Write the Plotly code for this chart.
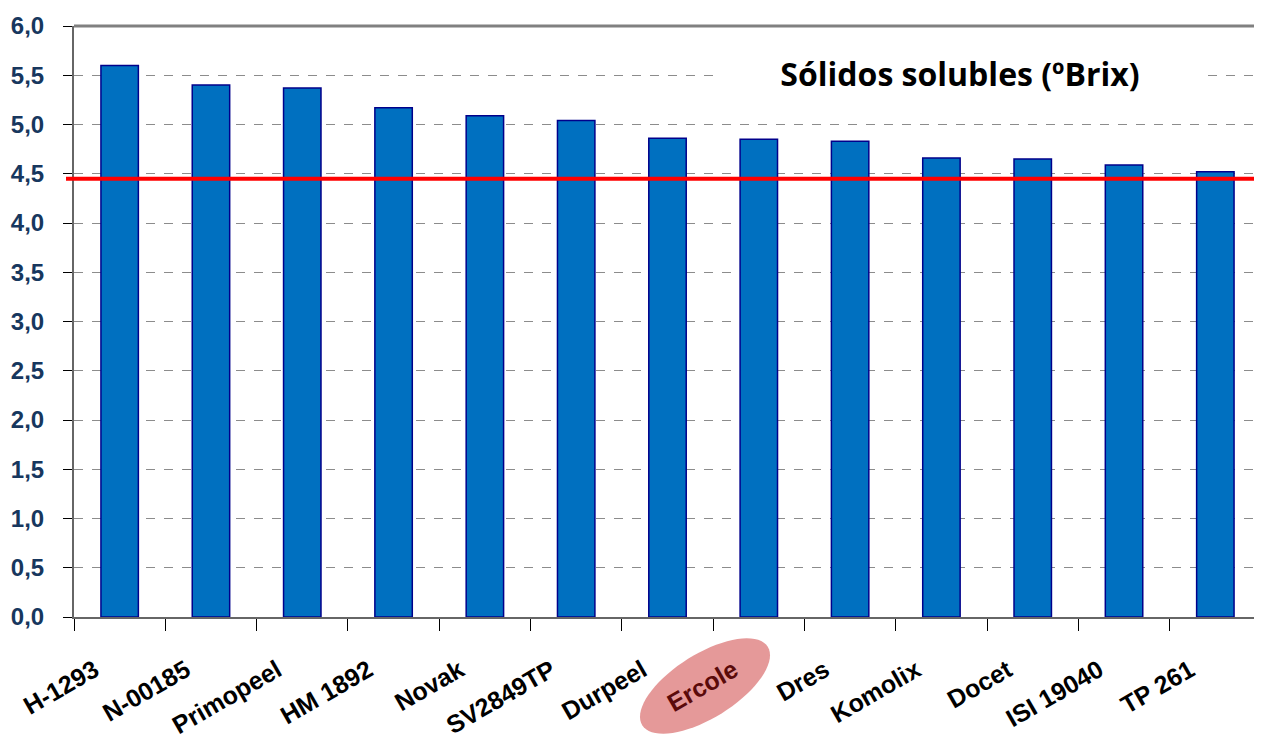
import numpy as np
import plotly.graph_objects as go

categories = ["H-1293", "N-00185", "Primopeel", "HM 1892", "Novak", "SV2849TP", "Durpeel",
              "Ercole", "Dres", "Komolix", "Docet", "ISI 19040", "TP 261"]
brix = [5.60, 5.40, 5.37, 5.17, 5.09, 5.04, 4.86, 4.85, 4.83, 4.66, 4.65, 4.59, 4.52]
reference_level = 4.45
highlight = "Ercole"
y_ticks = [0.0, 0.5, 1.0, 1.5, 2.0, 2.5, 3.0, 3.5, 4.0, 4.5, 5.0, 5.5, 6.0]
title_text = "Sólidos solubles (ºBrix)"

# page body adds an 8px margin, so the figure is sized/offset to compensate
OFF = 8
W, H = 1262 - OFF, 743 - OFF
ML, MR, MT, MB = 74 - OFF, 1, 26 - OFF, 126
PW, PH = W - ML - MR, H - MT - MB


def to_paper(px_win, py_win):
    return (px_win - OFF - ML) / PW, (MT + PH - (py_win - OFF)) / PH


ticktext = [f'<span style="color:#5a0a0a">{c}</span>' if c == highlight else c for c in categories]

fig = go.Figure()
fig.add_trace(go.Bar(
    x=categories, y=brix,
    marker=dict(color="#0070C0", line=dict(color="#00008B", width=1.5)),
    width=0.41, showlegend=False, hoverinfo="x+y",
))

# red reference line
fig.add_shape(type="line", xref="paper", yref="y", x0=-8 / PW, x1=1, y0=reference_level, y1=reference_level,
              line=dict(color="#FF0000", width=4), layer="above")
# top frame and right edge
fig.add_shape(type="line", xref="paper", yref="paper", x0=0, x1=1, y0=1, y1=1,
              line=dict(color="#808080", width=3))
fig.add_shape(type="line", xref="paper", yref="paper", x0=1, x1=1, y0=0, y1=1,
              line=dict(color="#C8C8C8", width=1))

# highlight ellipse behind the Ercole label
cx, cy = 705, 686
a, b, th = 74, 32, np.deg2rad(32)
t = np.linspace(0, 2 * np.pi, 73)
px = cx + a * np.cos(t) * np.cos(th) + b * np.sin(t) * np.sin(th)
py = cy - a * np.cos(t) * np.sin(th) + b * np.sin(t) * np.cos(th)
pts = [to_paper(x, y) for x, y in zip(px, py)]
path = "M " + " L ".join(f"{x:.5f},{y:.5f}" for x, y in pts) + " Z"
fig.add_shape(type="path", xref="paper", yref="paper", path=path,
              fillcolor="#E59999", line=dict(width=0), layer="below")

tx, ty = to_paper(960, 73)
fig.add_annotation(
    text=f"<b>{title_text}</b>", xref="paper", yref="paper",
    x=tx, y=ty, xanchor="center", yanchor="middle",
    showarrow=False, bgcolor="white", width=484, height=40,
    font=dict(family="Open Sans, Lato, sans-serif", size=32, color="black"),
)

fig.update_layout(
    width=W, height=H,
    margin=dict(l=ML, r=MR, t=MT, b=MB, autoexpand=False),
    paper_bgcolor="white", plot_bgcolor="white",
    bargap=0.59,
    separators=", ",
)
fig.update_xaxes(
    tickmode="array", tickvals=categories, ticktext=ticktext,
    tickangle=-30, tickson="boundaries", ticks="outside", ticklen=12, tickcolor="black",
    showline=True, linecolor="#666666", linewidth=2,
    ticklabelstandoff=27, ticklabelshift=-25, automargin=False,
    tickfont=dict(family="Liberation Sans, Arial, sans-serif", size=25, color="black", weight="bold"),
    showgrid=False,
)
fig.update_yaxes(
    range=[0, 6.0], tickmode="array", tickvals=y_ticks,
    ticktext=[f"{v:.1f}".replace(".", ",") for v in y_ticks],
    ticks="outside", ticklen=9, tickcolor="black", automargin=False,
    ticklabelstandoff=14,
    showline=True, linecolor="#666666", linewidth=2,
    showgrid=True, gridcolor="#8C8C8C", griddash="dash", gridwidth=1,
    tickfont=dict(family="Liberation Sans, Arial, sans-serif", size=24, color="#17375E", weight="bold"),
    zeroline=False,
)

fig.write_html("out.html")
